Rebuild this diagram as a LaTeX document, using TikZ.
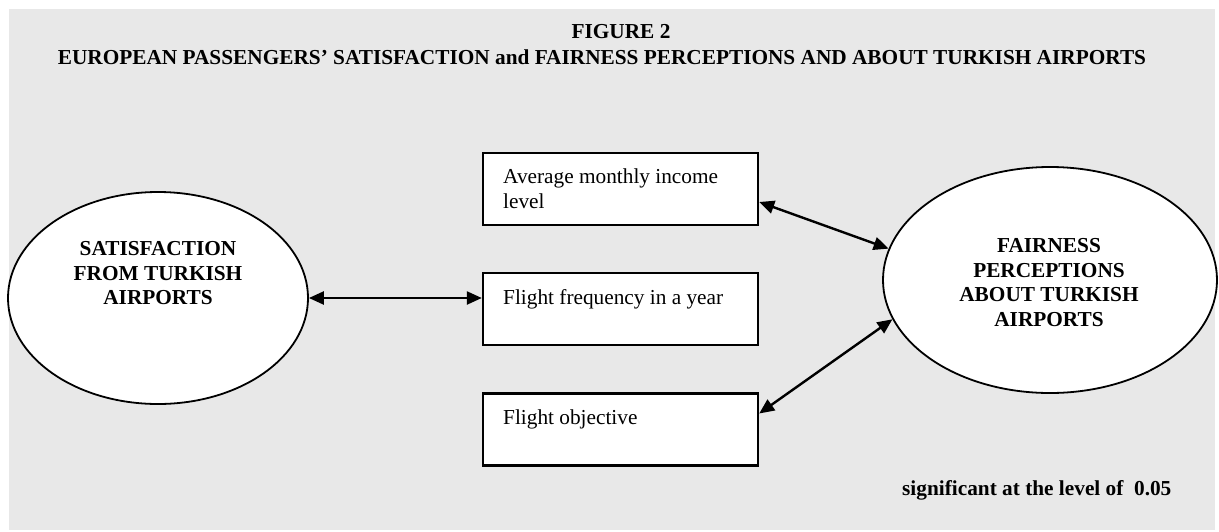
\documentclass[tikz,border=0pt]{standalone}
\usepackage{fontspec}
\setmainfont{Liberation Serif}
\usetikzlibrary{arrows.meta,shapes.geometric,calc}
\definecolor{bggray}{HTML}{E8E8E8}
\tikzset{
  ell/.style={ellipse,draw=black,fill=white,line width=1.8pt,inner sep=0pt},
  varbox/.style={rectangle,draw=black,fill=white,line width=2.4pt,minimum width=275pt,minimum height=72pt,inner sep=0pt},
  boxtxt/.style={font=\fontsize{21.3}{25}\selectfont,inner sep=0pt,align=left,anchor=north west},
  elltxt/.style={font=\fontsize{21.3}{24.8}\selectfont\bfseries,inner sep=0pt,align=center,anchor=north},
  ttl/.style={font=\fontsize{21.3}{25}\selectfont\bfseries,inner sep=0pt,anchor=base},
  arr/.style={line width=2.4pt,{Triangle[length=15pt,width=13pt]}-{Triangle[length=15pt,width=13pt]}}
}
\begin{document}
\begin{tikzpicture}[x=1pt,y=-1pt]
\useasboundingbox (0,0) rectangle (1219,531);
\fill[white] (0,0) rectangle (1219,531);
\fill[bggray] (9,9) rectangle (1215,530);
% titles
\node[ttl] (t1) at (621,38) {FIGURE 2};
\node[ttl] (t2) at (602,64) {EUROPEAN PASSENGERS’ SATISFACTION and FAIRNESS PERCEPTIONS AND ABOUT TURKISH AIRPORTS};
% ellipses
\node[ell,minimum width=300pt,minimum height=212pt] (sat) at (158,298) {};
\node[elltxt] (sattxt) at (158,241) {SATISFACTION\\FROM TURKISH\\AIRPORTS};
\node[ell,minimum width=334pt,minimum height=226pt] (fair) at (1050,280) {};
\node[elltxt] (fairtxt) at (1049,238) {FAIRNESS\\PERCEPTIONS\\ABOUT TURKISH\\AIRPORTS};
% boxes
\node[varbox] (b1) at (620.5,189) {};
\node[varbox] (b2) at (620.5,309) {};
\node[varbox] (b3) at (620.5,429.5) {};
\node[boxtxt] (b1t) at (503,168.5) {Average monthly income\\level};
\node[boxtxt] (b2t) at (503,289.5) {Flight frequency in a year};
\node[boxtxt] (b3t) at (503,409.5) {Flight objective};
% connectors
\draw[arr] (sat.east) -- (sat.east -| b2.west);
\draw[arr] ([yshift=-13pt]b1.east) -- (fair.169);
\draw[arr] ([yshift=16pt]b3.east) -- (fair.194);
% note
\node[ttl,anchor=base west] (note) at (902,495) {significant at the level of~ 0.05};
\end{tikzpicture}
\end{document}
